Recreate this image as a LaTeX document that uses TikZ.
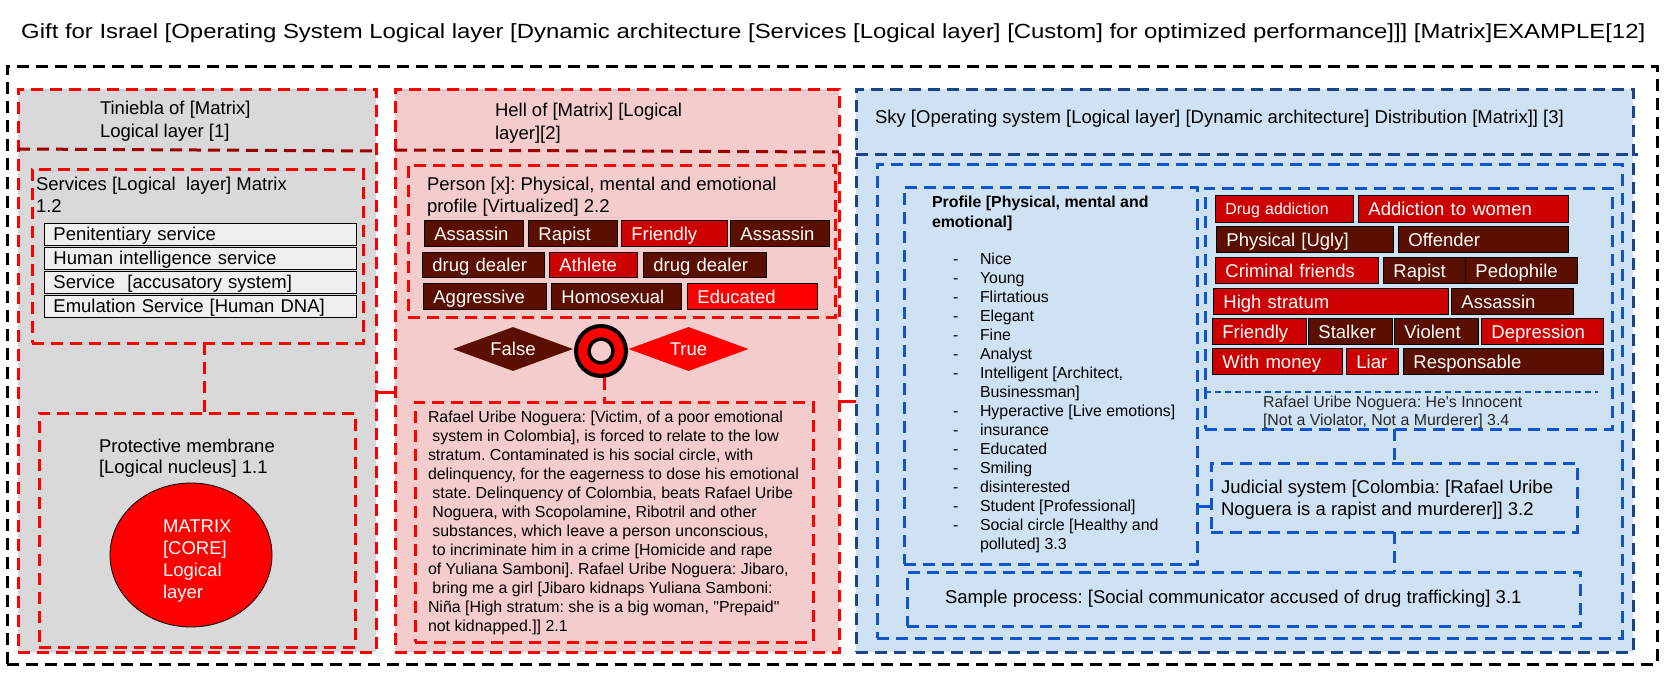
\documentclass[tikz,border=0pt]{standalone}
\usepackage{fontspec}
\usepackage{graphicx}
\setmainfont{Liberation Sans}
\usetikzlibrary{shapes.geometric}
\definecolor{cGray}{HTML}{D9D9D9}
\definecolor{cPink}{HTML}{F4CCCC}
\definecolor{cSky}{HTML}{CFE2F3}
\definecolor{cRed}{HTML}{FF0000}
\definecolor{cDRed}{HTML}{990000}
\definecolor{cDBlue}{HTML}{1C4587}
\definecolor{cBlue}{HTML}{1155CC}
\definecolor{cBrown}{HTML}{5B0F00}
\definecolor{cMid}{HTML}{CC0000}
\definecolor{cItem}{HTML}{EFEFEF}
\newcommand\fsz[2]{\fontsize{#1pt}{#2pt}\selectfont}
\newcommand\tagnode[8][]{\node[tagbox,fill=#3,text width=#6pt,minimum height=#7pt,#1] (#2) at (#4,#5) {\mbox{#8}};}
\tikzset{
  frame/.style={anchor=north west, inner sep=0pt, outer sep=0pt},
  dsh/.style={line width=3pt, dash pattern=on 12pt off 7pt},
  reddsh/.style={dsh, draw=cRed},
  bluedsh/.style={dsh, draw=cBlue},
  dbluedsh/.style={dsh, draw=cDBlue},
  blackdsh/.style={dsh, draw=black},
  redsep/.style={dsh, draw=cDRed},
  rline/.style={draw=cRed, line width=3pt},
  bline/.style={draw=cBlue, line width=3pt},
  txt/.style={anchor=north west, inner sep=0pt, outer sep=0pt},
  itembox/.style={anchor=north west, draw=black, line width=0.9pt, fill=cItem, text width=294pt, inner xsep=9pt, inner ysep=0pt, minimum height=21.5pt, align=left, text height=13.25pt, text depth=0pt, font=\fsz{18.5}{22}},
  tagbox/.style={anchor=north west, draw=black, line width=0.8pt, inner xsep=10pt, inner ysep=0pt, align=left, text=white, font=\fsz{18.5}{22}, text height=13.25pt, text depth=0pt},
  dia/.style={diamond, aspect=2.73, inner sep=0pt, minimum width=120pt, minimum height=44pt, text=white, font=\fsz{18.5}{22}, text height=13.25pt, text depth=0pt},
}
\begin{document}
\frenchspacing
\begin{tikzpicture}[x=1pt,y=-1pt]
\useasboundingbox (0,0) rectangle (1677,677);
\fill[white] (0,0) rectangle (1677,677);

% title
\node[anchor=base west, inner sep=0pt] (title) at (21,39) {\resizebox{1624pt}{\height}{\fsz{20.5}{24}Gift for Israel [Operating System Logical layer [Dynamic architecture [Services [Logical layer] [Custom] for optimized performance]]] [Matrix]EXAMPLE[12]}};

% outer frame
\node[frame, blackdsh, minimum width=1650pt, minimum height=598pt] (outer) at (7,66) {};

% ===== column 1: Tiniebla =====
\node[frame, reddsh, fill=cGray, minimum width=358pt, minimum height=563pt] (tin) at (18,89) {};
\draw[redsep] ([yshift=-60pt]tin.north west) -- ([yshift=-62pt]tin.north east);
\node[txt] (tinlbl) at (100,97.9) {\fsz{18.5}{23}\begin{tabular}{@{}l@{}}Tiniebla of [Matrix]\\Logical layer [1]\end{tabular}};

\node[frame, reddsh, minimum width=331pt, minimum height=174pt] (svc) at (32,169) {};
\node[txt] (svclbl) at (36,174.6) {\fsz{18.5}{22}\begin{tabular}{@{}l@{}}Services [Logical\ \ layer] Matrix\\1.2\end{tabular}};
\node[itembox] (it1) at (44,223) {Penitentiary service};
\node[itembox] (it2) at (44,247) {Human intelligence service};
\node[itembox] (it3) at (44,271) {Service\ \ [accusatory system]};
\node[itembox] (it4) at (44,295) {Emulation Service [Human DNA]};

\node[frame, reddsh, minimum width=316pt, minimum height=234pt] (prot) at (39,413) {};
\node[txt] (protlbl) at (99,437.3) {\fsz{18.5}{21}\begin{tabular}{@{}l@{}}Protective membrane\\{[}Logical nucleus] 1.1\end{tabular}};
\node[ellipse, fill=cRed, draw=black, line width=0.8pt, minimum width=162pt, minimum height=144pt, inner sep=0pt] (core) at (191,555) {};
\node[txt, text=white] (coretxt) at (163,517.8) {\fsz{18.5}{21.7}\begin{tabular}{@{}l@{}}MATRIX\\{[}CORE]\\Logical\\layer\end{tabular}};

\draw[reddsh] ([xshift=6.5pt]svc.south) -- ([xshift=6.5pt]svc.south |- prot.north);

% ===== column 2: Hell =====
\node[frame, reddsh, fill=cPink, minimum width=444pt, minimum height=563pt] (hell) at (395,89) {};
\draw[redsep] ([yshift=-61pt]hell.north west) -- ([yshift=-63pt]hell.north east);
\node[txt] (helllbl) at (495,99.9) {\fsz{18.5}{23}\begin{tabular}{@{}l@{}}Hell of [Matrix] [Logical\\layer][2]\end{tabular}};

\node[frame, reddsh, minimum width=427pt, minimum height=152pt] (person) at (408,165) {};
\node[txt] (personlbl) at (427,174.6) {\fsz{18.5}{22}\begin{tabular}{@{}l@{}}Person [x]: Physical, mental and emotional\\profile [Virtualized] 2.2\end{tabular}};
\tagnode{pa1}{cBrown}{424}{220}{79}{26}{Assassin}
\tagnode{pa2}{cBrown}{528}{220}{69}{26}{Rapist}
\tagnode{pa3}{cMid}{621}{220}{86}{26}{Friendly}
\tagnode{pa4}{cBrown}{730}{220}{79}{26}{Assassin}
\tagnode{pb1}{cBrown}{422}{252}{102}{25}{drug dealer}
\tagnode{pb2}{cMid}{549}{252}{68}{25}{Athlete}
\tagnode{pb3}{cBrown}{643}{252}{103}{25}{drug dealer}
\tagnode{pc1}{cBrown}{423}{283}{103}{26}{Aggressive}
\tagnode{pc2}{cBrown}{551}{283}{110}{26}{Homosexual}
\tagnode{pc3}{cRed}{687}{283}{110}{26}{Educated}

\node[dia, fill=cBrown] (false) at (513,349) {False};
\node[dia, fill=cRed] (true) at (688.5,349) {True};
\node[circle, fill=cRed, draw=black, line width=4pt, minimum size=50pt, inner sep=0pt] (donut) at (601,351) {};
\node[circle, fill=cPink, draw=black, line width=3.5pt, minimum size=24pt, inner sep=0pt] (hole) at (donut.center) {};

\node[frame, reddsh, minimum width=398pt, minimum height=240pt] (story) at (415,402) {};
\node[txt] (storytxt) at (428,408.7) {\fsz{15.9}{19}\begin{tabular}{@{}l@{}}
Rafael Uribe Noguera: [Victim, of a poor emotional\\
\ system in Colombia], is forced to relate to the low\\
stratum. Contaminated is his social circle, with\\
delinquency, for the eagerness to dose his emotional\\
\ state. Delinquency of Colombia, beats Rafael Uribe\\
\ Noguera, with Scopolamine, Ribotril and other\\
\ substances, which leave a person unconscious,\\
\ to incriminate him in a crime [Homicide and rape\\
of Yuliana Samboni]. Rafael Uribe Noguera: Jibaro,\\
\ bring me a girl [Jibaro kidnaps Yuliana Samboni:\\
Niña [High stratum: she is a big woman, \textquotedbl Prepaid\textquotedbl\\
not kidnapped.]] 2.1\end{tabular}};
\draw[reddsh] ([xshift=3pt]donut.south) -- ([xshift=3pt]donut.south |- story.north);

\draw[rline] ([yshift=-21.5pt]tin.east) -- ([yshift=-21.5pt]hell.west);

% ===== column 3: Sky =====
\node[frame, dbluedsh, fill=cSky, minimum width=777pt, minimum height=563pt] (sky) at (856,89) {};
\draw[dbluedsh] ([yshift=-65pt]sky.north west) -- ([yshift=-65pt,xshift=5pt]sky.north east);
\node[txt] (skylbl) at (875,106.9) {\fsz{18.5}{23}\begin{tabular}{@{}l@{}}Sky [Operating system [Logical layer] [Dynamic architecture] Distribution [Matrix]] [3]\end{tabular}};

\draw[rline] ([yshift=-30.5pt]hell.east) -- ([yshift=-30.5pt]sky.west);

\node[frame, bluedsh, minimum width=745pt, minimum height=474pt] (boxa) at (877,164) {};

\node[frame, bluedsh, minimum width=293pt, minimum height=377pt] (prof) at (904,187) {};
\node[txt] (proftitle) at (932,193) {\fsz{15.9}{20}\bfseries\begin{tabular}{@{}l@{}}Profile [Physical, mental and\\emotional]\end{tabular}};
\node[txt] (proflist) at (953,250.7) {\fsz{15.9}{19}\begin{tabular}{@{}p{27pt}@{}l@{}}
-&Nice\\ -&Young\\ -&Flirtatious\\ -&Elegant\\ -&Fine\\ -&Analyst\\
-&Intelligent [Architect,\\ &Businessman]\\ -&Hyperactive [Live emotions]\\
-&insurance\\ -&Educated\\ -&Smiling\\ -&disinterested\\ -&Student [Professional]\\
-&Social circle [Healthy and\\ &polluted] 3.3\end{tabular}};

\node[frame, bluedsh, minimum width=407pt, minimum height=241pt] (tags) at (1205,188) {};
\tagnode[font=\fsz{15.9}{19}, text height=11.4pt]{sa1}{cMid}{1215}{195}{118}{27}{Drug addiction}
\tagnode{sa2}{cMid}{1358}{195}{190}{27}{Addiction to women}
\tagnode{sb1}{cBrown}{1216}{226}{157}{26}{Physical [Ugly]}
\tagnode{sb2}{cBrown}{1398}{226}{150}{26}{Offender}
\tagnode{sc1}{cMid}{1215}{257}{143}{26}{Criminal friends}
\tagnode{sc2}{cBrown}{1383}{257}{62}{26}{Rapist}
\tagnode{sc3}{cBrown}{1465}{257}{92}{26}{Pedophile}
\tagnode{sd1}{cMid}{1213}{288}{215}{26}{High stratum}
\tagnode{sd2}{cBrown}{1451}{288}{102}{26}{Assassin}
\tagnode{se1}{cMid}{1212}{318}{74}{26}{Friendly}
\tagnode{se2}{cBrown}{1308}{318}{64}{26}{Stalker}
\tagnode{se3}{cBrown}{1394}{318}{64}{26}{Violent}
\tagnode{se4}{cMid}{1481}{318}{102}{26}{Depression}
\tagnode{sf1}{cMid}{1212}{348}{110}{26}{With money}
\tagnode{sf2}{cMid}{1346}{348}{32}{26}{Liar}
\tagnode{sf3}{cBrown}{1403}{348}{180}{26}{Responsable}
\draw[draw=cBlue, line width=1.4pt, dash pattern=on 6pt off 4pt] ([yshift=-204pt]tags.north west) -- ++(393,0);
\node[txt, text=black!85] (innocent) at (1263,394.5) {\fsz{15.9}{18}\begin{tabular}{@{}l@{}}Rafael Uribe Noguera: He\textquotesingle s Innocent\\{[}Not a Violator, Not a Murderer] 3.4\end{tabular}};

\node[frame, bluedsh, minimum width=366pt, minimum height=69pt] (jud) at (1211,463) {};
\node[txt] (judlbl) at (1221,477.6) {\fsz{18.5}{22}\begin{tabular}{@{}l@{}}Judicial system [Colombia: [Rafael Uribe\\Noguera is a rapist and murderer]] 3.2\end{tabular}};

\node[frame, bluedsh, minimum width=673pt, minimum height=54pt] (smp) at (907,572) {};
\node[txt] (smplbl) at (945,587.6) {\fsz{18.5}{22}\begin{tabular}{@{}l@{}}Sample process: [Social communicator accused of drug trafficking] 3.1\end{tabular}};

\draw[bluedsh] (jud.north |- tags.south) -- (jud.north);
\draw[bluedsh] (jud.south) -- (jud.south |- smp.north);
\draw[bline] ([yshift=-8.5pt]jud.west) -- ([yshift=-8.5pt]jud.west -| prof.east);
\end{tikzpicture}
\end{document}
